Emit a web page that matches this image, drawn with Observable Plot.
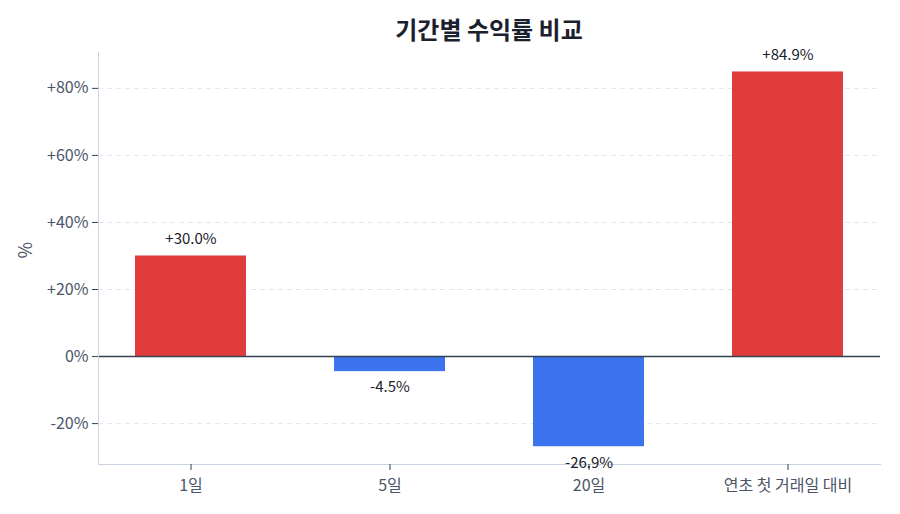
<!DOCTYPE html>
<html><head><meta charset="utf-8">
<script src="https://cdn.jsdelivr.net/npm/d3@7"></script>
<script src="https://cdn.jsdelivr.net/npm/@observablehq/plot@0.6"></script>
<style>
body{margin:0;background:#fff;font-family:"Noto Sans CJK KR","Noto Sans",sans-serif;}
#title{height:44px;box-sizing:border-box;padding-top:12px;padding-left:98px;padding-right:20px;text-align:center;font-size:24px;font-weight:700;line-height:34px;color:#1a202c;}
</style></head>
<body>
<div id="title">기간별 수익률 비교</div>
<div id="chart"></div>
<script>
const periods = ["1일", "5일", "20일", "연초 첫 거래일 대비"];
const returns = [30.0, -4.5, -26.9, 84.9];
const yTicks = [-20, 0, 20, 40, 60, 80];

const data = periods.map((p, i) => ({period: p, value: returns[i]}));
const fmt = v => (v > 0 ? "+" : "") + v.toFixed(1) + "%";
const tickFmt = v => (v > 0 ? "+" : "") + v + "%";

const chart = Plot.plot({
  width: 900,
  height: 470,
  marginTop: 8,
  marginBottom: 50,
  marginLeft: 98,
  marginRight: 20,
  style: {fontFamily: '"Noto Sans CJK KR","Noto Sans",sans-serif', fontSize: "16px", color: "#4a5568"},
  x: {domain: periods, paddingInner: 0.44, paddingOuter: 0.18, label: null},
  y: {domain: [-32.2, 90.7], label: null},
  marks: [
    Plot.gridY(yTicks, {stroke: "#cbd5e1", strokeOpacity: 0.6, strokeDasharray: "5,4"}),
    Plot.barY(data, {x: "period", y: "value", fill: d => d.value >= 0 ? "#e03c3c" : "#3b74ee"}),
    Plot.ruleY([0], {stroke: "#334155", strokeWidth: 1.5}),
    Plot.frame({anchor: "left", stroke: "#cbd5e1"}),
    Plot.frame({anchor: "bottom", stroke: "#cbd5e1"}),
    Plot.axisY(yTicks, {tickFormat: tickFmt, tickSize: 6, tickPadding: 4, fontSize: 16, color: "#4a5568", stroke: "#334155", label: null}),
    Plot.axisX({tickSize: 6, tickPadding: 9, fontSize: 16, color: "#4a5568", stroke: "#334155", label: null}),
    Plot.text(data.filter(d => d.value >= 0), {x: "period", y: "value", text: d => fmt(d.value), dy: -17, fontSize: 15, fill: "#1a202c"}),
    Plot.text(data.filter(d => d.value < 0), {x: "period", y: "value", text: d => fmt(d.value), dy: 16, fontSize: 15, fill: "#1a202c"}),
    Plot.text(["%"], {frameAnchor: "left", dx: -72, rotate: -90, fontSize: 18, fill: "#4a5568"})
  ]
});
document.getElementById("chart").appendChild(chart);
</script>
</body></html>
